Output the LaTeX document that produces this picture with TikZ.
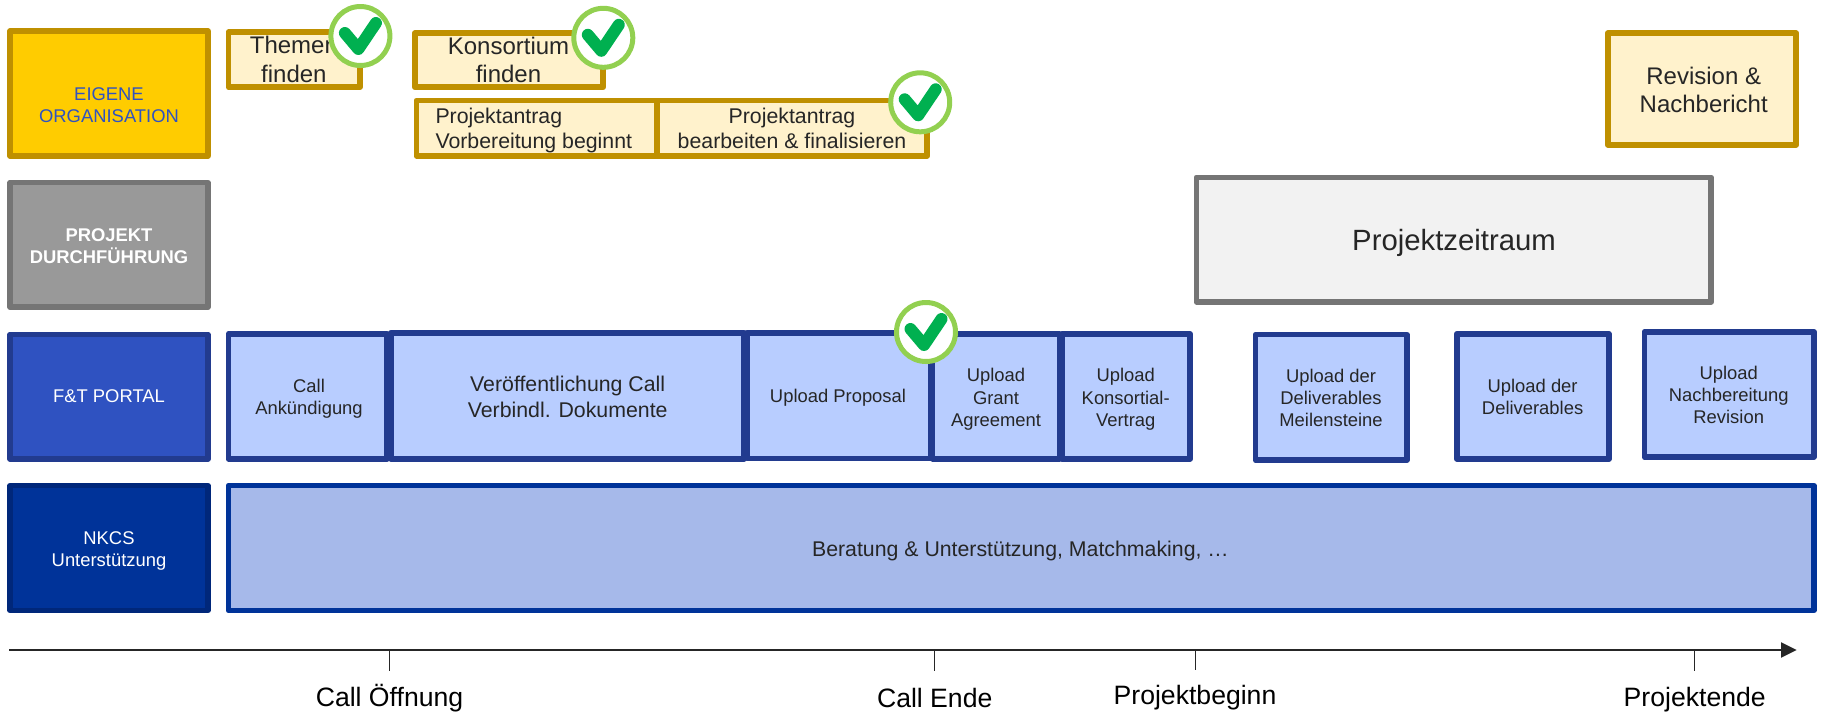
\documentclass[tikz,border=0pt]{standalone}
\usepackage{fontspec}
\setmainfont{Liberation Sans}
\usetikzlibrary{arrows.meta}
\definecolor{gold}{HTML}{BF9000}
\definecolor{cream}{HTML}{FFF2CC}
\definecolor{yellowfill}{HTML}{FFCC00}
\definecolor{labelblue}{HTML}{2F52C1}
\definecolor{grayfill}{HTML}{999999}
\definecolor{grayline}{HTML}{757575}
\definecolor{portalline}{HTML}{223B8F}
\definecolor{nkcsfill}{HTML}{003399}
\definecolor{nkcsline}{HTML}{00277A}
\definecolor{paleblue}{HTML}{B8CDFF}
\definecolor{midblue}{HTML}{A6B9EA}
\definecolor{ink}{HTML}{262626}
\definecolor{ringgreen}{HTML}{92D050}
\definecolor{tickgreen}{HTML}{00B050}
\newcommand{\fs}[1]{\fontsize{#1}{\fpeval{1.2*#1}}\selectfont}
\newcommand{\boxn}[6]{\node[boxbase,#2,minimum width={#5-#3-5.6},minimum height={#6-#4-5.6}] (#1) at ({(#3+#5)/2},{(#4+#6)/2}) {};}
\newcommand{\okmark}[3]{%
  \node[ring] (#1) at (#2,#3) {};
  \draw[okstroke] ([shift={(-15.5,-3)}]#1.center) -- ([shift={(-2,13)}]#1.center) -- ([shift={(15.5,-13)}]#1.center);}
\tikzset{
  boxbase/.style={draw,line width=5.6pt,line join=round,inner sep=0pt,outer sep=0pt},
  goldbox/.style={draw=gold,fill=cream},
  headyellow/.style={draw=gold,fill=yellowfill},
  headgray/.style={draw=grayline,fill=grayfill},
  headportal/.style={draw=portalline,fill=labelblue},
  headnkcs/.style={draw=nkcsline,fill=nkcsfill},
  portalbox/.style={draw=portalline,fill=paleblue},
  supportbox/.style={draw=nkcsfill,fill=midblue},
  periodbox/.style={draw=grayline,fill=black!5},
  txt/.style={inner sep=0pt,outer sep=0pt,align=center,text=ink},
  sz/.style={font=\fs{#1}},
  ring/.style={circle,draw=ringgreen,fill=white,line width=5pt,minimum size=59pt,inner sep=0pt},
  okstroke/.style={draw=tickgreen,line width=12pt,line cap=round,line join=round},
  axisline/.style={draw=ink,line width=2.3pt,-{Triangle[length=15.7pt,width=15pt]}},
  axistick/.style={draw=ink,line width=1.2pt},
}
\begin{document}
\begin{tikzpicture}[x=1pt,y=-1pt]
\useasboundingbox (0,0) rectangle (1822,713);
% row headers
\boxn{hA}{headyellow}{7.3}{28.3}{210.6}{158.7}
\node[txt,sz=18.4,text=labelblue] (tA) at (109,105.3) {EIGENE\\ORGANISATION};
\boxn{hB}{headgray}{7.3}{179.7}{210.6}{310}
\node[txt,font=\fs{18.4}\bfseries,text=white] (tB) at (109,245.8) {PROJEKT\\DURCHFÜHRUNG};
\boxn{hC}{headportal}{7.3}{331.5}{210.6}{461.8}
\node[txt,sz=18.4,text=white] (tC) at (109,396.3) {F\&T PORTAL};
\boxn{hD}{headnkcs}{7.3}{482.8}{210.6}{613.2}
\node[txt,sz=18.4,text=white] (tD) at (109,550.6) {NKCS\\Unterstützung};
% own organisation
\boxn{b1}{goldbox}{225.7}{29.3}{362.9}{90}
\node[txt,sz=24] (t1) at (293.9,59.7) {Themen\\finden};
\boxn{b2}{goldbox}{412}{30.3}{606}{90}
\node[txt,sz=24] (t2) at (508.5,60) {Konsortium\\finden};
\boxn{b3}{goldbox}{413.5}{97.7}{659.6}{158.7}
\node[txt,sz=21.3,anchor=west,align=left] (t3) at (435.5,130.5) {Projektantrag\\Vorbereitung beginnt};
\boxn{b4}{goldbox}{654.7}{97.7}{930}{158.7}
\node[txt,sz=21.3] (t4) at (792,128.3) {Projektantrag\\bearbeiten \& finalisieren};
\boxn{b5}{goldbox}{1605}{30.3}{1799}{147.7}
\node[txt,sz=24] (t5) at (1703.7,90) {Revision \&\\Nachbericht};
% project period
\boxn{b6}{periodbox}{1193.5}{174.5}{1714}{304.7}
\node[txt,sz=29.3] (t6) at (1454,242.7) {Projektzeitraum};
% portal row
\boxn{p1}{portalbox}{225.7}{331}{390}{461.8}
\node[txt,sz=18.4] (q1) at (309,398.9) {Call\\Ankündigung};
\boxn{p2}{portalbox}{388}{330}{747}{461.8}
\node[txt,sz=21.3] (q2) at (567.7,397) {Veröffentlichung Call\\Verbindl. Dokumente};
\boxn{p3}{portalbox}{744}{330}{934}{461.2}
\node[txt,sz=18.4] (q3) at (838,397.7) {Upload Proposal};
\boxn{p4}{portalbox}{929.8}{331.2}{1062.4}{461.8}
\node[txt,sz=18.4] (q4) at (996,399.3) {Upload\\Grant\\Agreement};
\boxn{p5}{portalbox}{1059}{331.2}{1193}{461.8}
\node[txt,sz=18.4] (q5) at (1125.7,399.3) {Upload\\Konsortial-\\Vertrag};
\boxn{p6}{portalbox}{1252.5}{331.8}{1409.7}{462.8}
\node[txt,sz=18.4] (q6) at (1331,398) {Upload der\\Deliverables\\Meilensteine};
\boxn{p7}{portalbox}{1454}{331}{1611.6}{461.8}
\node[txt,sz=18.4] (q7) at (1532.6,396.5) {Upload der\\Deliverables};
\boxn{p8}{portalbox}{1641.5}{329}{1816.8}{459.8}
\node[txt,sz=18.4] (q8) at (1728.7,394.7) {Upload\\Nachbereitung\\Revision};
% support row
\boxn{s1}{supportbox}{225.7}{482.8}{1816.8}{613.2}
\node[txt,sz=21.3] (s1t) at (1020.4,550.5) {Beratung \& Unterstützung, Matchmaking, …};
% check marks
\okmark{c1}{360.4}{36}
\okmark{c2}{603.3}{37.8}
\okmark{c3}{920.2}{102.3}
\okmark{c4}{926}{332}
% time axis
\coordinate (axs) at (9.4,650);
\coordinate (axe) at (1796.7,650);
\draw[axisline] (axs) -- (axe);
\coordinate (m1) at (389.4,650); \coordinate (m1e) at (389.4,671);
\coordinate (m2) at (934.7,650); \coordinate (m2e) at (934.7,671);
\coordinate (m3) at (1195.5,650); \coordinate (m3e) at (1195.5,669.5);
\coordinate (m4) at (1694.3,650); \coordinate (m4e) at (1694.3,671);
\draw[axistick] (m1) -- (m1e);
\draw[axistick] (m2) -- (m2e);
\draw[axistick] (m3) -- (m3e);
\draw[axistick] (m4) -- (m4e);
\node[txt,sz=26.6,text=black] (l1) at (389.5,698) {Call Öffnung};
\node[txt,sz=26.6,text=black] (l2) at (934.7,698) {Call Ende};
\node[txt,sz=26.6,text=black] (l3) at (1195,698.1) {Projektbeginn};
\node[txt,sz=26.6,text=black] (l4) at (1694.7,699.8) {Projektende};
\end{tikzpicture}
\end{document}
